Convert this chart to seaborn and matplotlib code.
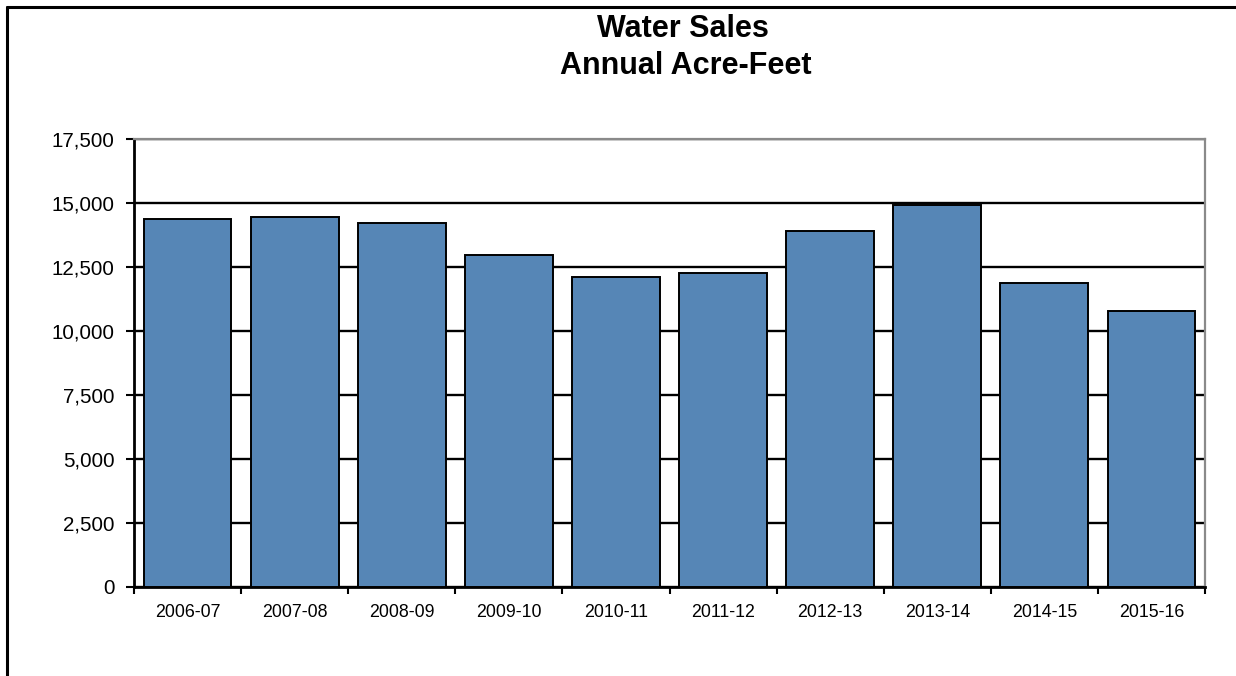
import matplotlib
matplotlib.use("Agg")
import matplotlib.pyplot as plt
from matplotlib.lines import Line2D
from matplotlib.ticker import FuncFormatter, FixedLocator
import seaborn as sns
import pandas as pd

# Annual water sales (acre-feet) by fiscal year
years = ["2006-07", "2007-08", "2008-09", "2009-10", "2010-11",
         "2011-12", "2012-13", "2013-14", "2014-15", "2015-16"]
sales = [14360, 14450, 14220, 12970, 12110, 12280, 13900, 14940, 11880, 10800]
y_ticks = [0, 2500, 5000, 7500, 10000, 12500, 15000, 17500]

df = pd.DataFrame({"year": years, "sales": sales})

sns.set_theme(style="white")
plt.rcParams["font.family"] = ["Liberation Sans", "DejaVu Sans"]

fig = plt.figure(figsize=(12.36, 6.76), dpi=100)
ax = fig.add_axes([134 / 1236, 1 - 587 / 676, (1205 - 134) / 1236, (587 - 139) / 676])

sns.barplot(data=df, x="year", y="sales", color="#5686B6", saturation=1,
            width=0.82, edgecolor="black", linewidth=1.4, ax=ax, zorder=3)

ax.set_xlim(-0.5, len(years) - 0.5)
ax.set_ylim(0, 17500)
ax.yaxis.set_major_locator(FixedLocator(y_ticks))
ax.yaxis.set_major_formatter(FuncFormatter(lambda v, p: f"{int(v):,}"))

# horizontal gridlines
ax.set_axisbelow(True)
ax.yaxis.grid(True, color="black", linewidth=1.7)
ax.xaxis.grid(False)

# spines
for side in ("left", "bottom"):
    ax.spines[side].set_color("black")
    ax.spines[side].set_linewidth(2)
for side in ("top", "right"):
    ax.spines[side].set_color("#8a8a8a")
    ax.spines[side].set_linewidth(1.6)

# category boundary ticks on x, labels centred under bars
ax.set_xticks(range(len(years)))
ax.set_xticklabels(years)
ax.set_xticks([i - 0.5 for i in range(len(years) + 1)], minor=True)
ax.tick_params(axis="x", which="major", length=0, pad=12.5, labelsize=12.8, colors="black")
ax.tick_params(axis="x", which="minor", bottom=True, length=5, width=1.5, color="black")
ax.tick_params(axis="y", which="major", left=True, length=6, width=1.5, color="black",
               pad=8, labelsize=14.8, labelcolor="black")
ax.set_xlabel("")
ax.set_ylabel("")

# title
fig.text(683 / 1236, 1 - 29 / 676, "Water Sales", ha="center", va="center",
         fontsize=22, fontweight="bold", color="black")
fig.text(686 / 1236, 1 - 66 / 676, "Annual Acre-Feet", ha="center", va="center",
         fontsize=22, fontweight="bold", color="black")

# chart frame (top and left edges)
fig.add_artist(Line2D([7 / 1236, 7 / 1236], [0, 1 - 7 / 676], transform=fig.transFigure,
                      color="black", linewidth=2.2))
fig.add_artist(Line2D([7 / 1236, 1], [1 - 7 / 676, 1 - 7 / 676], transform=fig.transFigure,
                      color="black", linewidth=2.2))

fig.savefig("out.png", dpi=100)
